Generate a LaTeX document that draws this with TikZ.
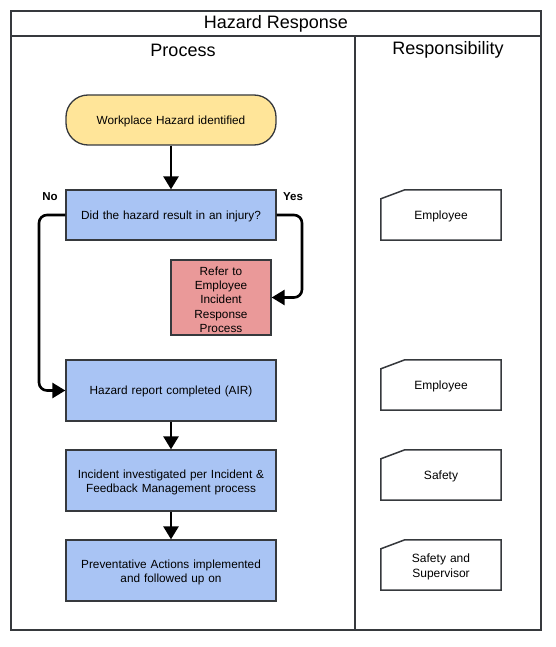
\documentclass[tikz,border=0pt]{standalone}
\usepackage{fontspec}
\setmainfont{Liberation Sans}
\usepackage{tikz}
\usetikzlibrary{arrows,arrows.meta}

\definecolor{startfill}{HTML}{FFE599}
\definecolor{stepfill}{HTML}{A9C4F4}
\definecolor{referfill}{HTML}{EA9999}
\definecolor{edge}{HTML}{36393D}

\tikzset{
  stepbox/.style={draw=edge, line width=1.3pt, fill=stepfill, minimum width=210pt, minimum height=61pt, inner sep=0pt, text width=200pt, align=center, font=\fontsize{11.8}{14.3}\selectfont},
  cardbox/.style={minimum width=120pt, minimum height=50pt, inner sep=0pt, text width=110pt, align=center, font=\fontsize{12}{14.3}\selectfont},
  oneline/.style={text depth=-1.5pt},
  manylines/.style={execute at end node={\par\vspace*{-4pt}}},
  flow/.style={-{Triangle[width=15pt,length=13pt]}, line width=2.6pt, rounded corners=8pt},
  lanetitle/.style={font=\fontsize{18}{21}\selectfont},
}

\begin{document}
\begin{tikzpicture}[x=1pt, y=-1pt]
\useasboundingbox (0,0) rectangle (555,647);
% frame and lanes
\draw[line width=1.5pt, edge] (11,11) rectangle (541,630);
\draw[line width=1.5pt, edge] (11,36) -- (541,36);
\draw[line width=1.5pt, edge] (355,36) -- (355,630);
\node (title) at (276, 24) [lanetitle] {Hazard Response};
\node (lane1) at (183, 50) [lanetitle] {Process};
\node (lane2) at (448, 50) [lanetitle] {Responsibility};

% process
\node (start) at (171, 120) [stepbox, oneline, fill=startfill, rounded corners=22pt, minimum height=50pt] {Workplace Hazard identified};
\node (injury) at (171, 215) [stepbox, oneline, minimum height=50pt] {Did the hazard result in an injury?};
\node (refer) at (221, 297.5) [stepbox, manylines, fill=referfill, minimum width=100pt, minimum height=75pt, text width=90pt] {Refer to\\Employee\\Incident\\Response\\Process};
\node (report) at (171, 390.5) [stepbox, oneline] {Hazard report completed (AIR)};
\node (invest) at (171, 480.5) [stepbox, manylines] {Incident investigated per Incident \&\\Feedback Management process};
\node (actions) at (171, 570.5) [stepbox, manylines] {Preventative Actions implemented\\and followed up on};

\node (no) at (50, 197) [font=\fontsize{11.5}{13}\selectfont\bfseries] {No};
\node (yes) at (293, 197) [font=\fontsize{11.5}{13}\selectfont\bfseries] {Yes};

\draw[flow] (start) -- (injury);
\draw[flow] (injury.east) -- (302, 215) -- (302, 297.5) -- (refer.east);
\draw[flow] (injury.west) -- (39, 215) -- (39, 390.5) -- (report.west);
\draw[flow] (report) -- (invest);
\draw[flow] (invest) -- (actions);

% responsibility
\node (who1) at (441, 215) [cardbox, oneline] {Employee};
\node (who2) at (441, 385) [cardbox, oneline] {Employee};
\node (who3) at (441, 475) [cardbox, oneline] {Safety};
\node (who4) at (441, 565) [cardbox, manylines] {Safety and\\Supervisor};
\foreach \w in {who1, who2, who3, who4}
  \draw[line width=1.5pt, edge] ([yshift=-9pt]\w.north west) -- ([xshift=24pt]\w.north west) -- (\w.north east) -- (\w.south east) -- (\w.south west) -- cycle;
\end{tikzpicture}
\end{document}
